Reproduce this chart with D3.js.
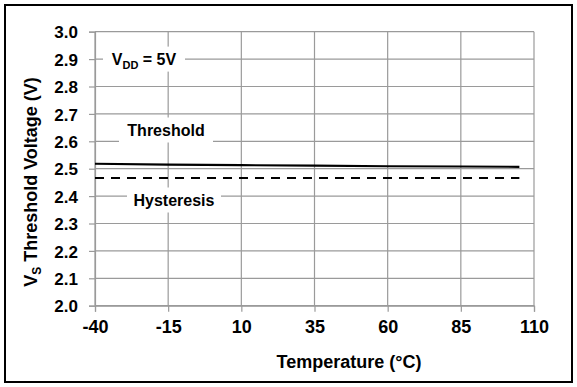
<!DOCTYPE html>
<html>
<head>
<meta charset="utf-8">
<script src="https://cdn.jsdelivr.net/npm/d3@7"></script>
<style>
  html, body { margin: 0; padding: 0; background: #fff; }
  svg { display: block; font-family: "Liberation Sans", Arial, Helvetica, sans-serif; font-weight: bold; }
</style>
</head>
<body>
<svg id="chart" width="577" height="387"></svg>
<script>
// Supply-sense threshold vs. temperature
const temperatures = [-40, -15, 10, 35, 60, 85, 105];
const thresholdV   = [2.518, 2.515, 2.513, 2.511, 2.509, 2.508, 2.507];
const hysteresisV  = [2.466, 2.466, 2.466, 2.466, 2.466, 2.466, 2.466];

const xTicks = [-40, -15, 10, 35, 60, 85, 110];
const yTicks = [2.0, 2.1, 2.2, 2.3, 2.4, 2.5, 2.6, 2.7, 2.8, 2.9, 3.0];

const svg = d3.select("#chart");
const W = 577, H = 387;
const plot = { left: 95, top: 31.7, right: 534, bottom: 305.7 };

const x = d3.scaleLinear().domain([-40, 110]).range([plot.left, plot.right]);
const y = d3.scaleLinear().domain([2.0, 3.0]).range([plot.bottom, plot.top]);

// outer frame
svg.append("rect")
  .attr("x", 5).attr("y", 5).attr("width", W - 10).attr("height", H - 10)
  .attr("fill", "#fff").attr("stroke", "#000").attr("stroke-width", 2);

const gridColor = "#9a9a9a";

// gridlines
svg.append("g").selectAll("line").data(yTicks).join("line")
  .attr("x1", plot.left).attr("x2", plot.right)
  .attr("y1", d => y(d)).attr("y2", d => y(d))
  .attr("stroke", gridColor).attr("stroke-width", 1.2);
svg.append("g").selectAll("line").data(xTicks).join("line")
  .attr("y1", plot.top).attr("y2", plot.bottom)
  .attr("x1", d => x(d)).attr("x2", d => x(d))
  .attr("stroke", gridColor).attr("stroke-width", 1.2);

// axes (plain hyphen for negative temperatures)
const xAxis = svg.append("g")
  .attr("transform", `translate(0,${plot.bottom})`)
  .call(d3.axisBottom(x).tickValues(xTicks).tickFormat(d => String(d)).tickSize(6).tickPadding(9));
const yAxis = svg.append("g")
  .attr("transform", `translate(${plot.left},0)`)
  .call(d3.axisLeft(y).tickValues(yTicks).tickFormat(d => d.toFixed(1)).tickSize(6).tickPadding(11));

[xAxis, yAxis].forEach(g => {
  g.select(".domain").attr("stroke", gridColor).attr("stroke-width", 1.2);
  g.selectAll(".tick line").attr("stroke", gridColor).attr("stroke-width", 1.2);
  g.selectAll("text").attr("fill", "#000")
    .style("font-family", "'Liberation Sans', Arial, sans-serif").style("font-weight", "bold");
});
xAxis.selectAll("text").style("font-size", "18px");
yAxis.selectAll("text").style("font-size", "17px").attr("dy", "0.36em");

// white-backed annotation labels
function boxLabel(cx, cy, bw, bh, build) {
  svg.append("rect").attr("x", cx - bw / 2).attr("y", cy - bh / 2)
    .attr("width", bw).attr("height", bh).attr("fill", "#fff");
  const t = svg.append("text").attr("x", cx).attr("y", cy).attr("dy", "0.36em")
    .attr("text-anchor", "middle").style("font-size", "16px");
  build(t);
}
boxLabel(144, y(2.9), 82, 25, t => {
  t.append("tspan").text("V");
  t.append("tspan").attr("dy", 4).style("font-size", "11px").text("DD");
  t.append("tspan").attr("dy", -4).text(" = 5V");
});
boxLabel(166, 130, 94, 25, t => t.text("Threshold"));
boxLabel(174, 200, 94, 25, t => t.text("Hysteresis"));

// data lines
const line = d3.line().x(d => x(d[0])).y(d => y(d[1]));
svg.append("path")
  .datum(temperatures.map((t, i) => [t, thresholdV[i]]))
  .attr("d", line).attr("fill", "none").attr("stroke", "#000").attr("stroke-width", 2.2);
svg.append("path")
  .datum(temperatures.map((t, i) => [t, hysteresisV[i]]))
  .attr("d", line).attr("fill", "none").attr("stroke", "#000").attr("stroke-width", 2.2)
  .attr("stroke-dasharray", "9,7");

// axis titles
svg.append("text")
  .attr("x", 349).attr("y", 368).attr("text-anchor", "middle")
  .style("font-size", "18px").text("Temperature (°C)");

const yt = svg.append("text")
  .attr("transform", "translate(37,182) rotate(-90)")
  .attr("text-anchor", "middle").style("font-size", "18px");
yt.append("tspan").text("V");
yt.append("tspan").attr("dy", 4).style("font-size", "12px").text("S");
yt.append("tspan").attr("dy", -4).text(" Threshold Voltage (V)");
</script>
</body>
</html>
